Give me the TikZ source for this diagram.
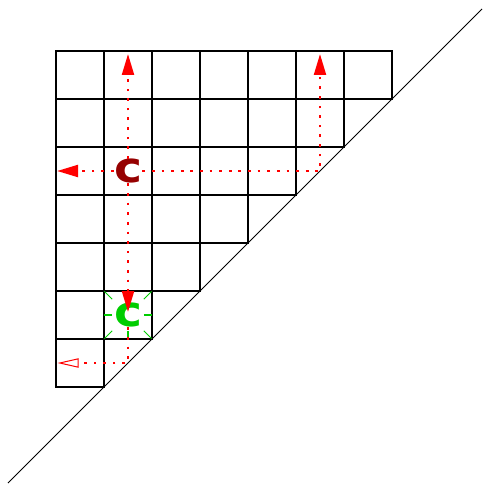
\documentclass[tikz,border=0pt]{standalone}
\usepackage{fontspec}
\newfontfamily\cfont{DejaVu Sans}
\usetikzlibrary{arrows.meta,calc}
\definecolor{cdark}{RGB}{150,0,0}
\definecolor{cgreen}{RGB}{0,205,0}
\tikzset{
  gridline/.style={line width=1.6pt, line cap=rect},
  dotline/.style={red, line width=1.6pt, dash pattern=on 1.6pt off 4.1pt},
  fulltip/.style={-{Triangle[width=7pt,length=12.5pt]}},
  opentip/.style={-{Triangle[open,width=5.5pt,length=12.5pt,line width=0.6pt]}},
  letter/.style={font=\cfont\bfseries\fontsize{25}{25}\selectfont, inner sep=0pt},
  ray/.style={cgreen, line width=0.6pt}
}
\begin{document}
\begin{tikzpicture}
\useasboundingbox (-1.1667,-2.0833) rectangle (8.896,8.0625);
% grid staircase
\foreach \j in {0,...,6} {
  \pgfmathtruncatemacro{\n}{\j+1}
  \foreach \i in {1,...,\n} {
    \draw[gridline] (\i-1,\j) rectangle (\i,\j+1);
  }
}
% diagonal
\coordinate (d1) at (-1,-2);
\coordinate (d2) at (8.875,7.875);
\draw[line width=0.6pt] (d1) -- (d2);
% green rays
\foreach \dx/\dy in {1/1,1/0,1/-1,0/-1,-1/-1,-1/0,-1/1,0/1} {
  \draw[ray] ($(1.5,1.5)+0.33*(\dx,\dy)$) -- ($(1.5,1.5)+0.49*(\dx,\dy)$);
}
% letters
\node[letter, text=cdark] (rc) at (1.5,4.5) {\scalebox{1.12}[1]{c}};
\node[letter, text=cgreen] (gc) at (1.5,1.5) {\scalebox{1.12}[1]{c}};
% coordinates
\coordinate (upA) at (1.5,6.94);
\coordinate (leftA) at (0.02,4.5);
\coordinate (turn) at (5.5,4.5);
\coordinate (upB) at (5.5,6.94);
\coordinate (downA) at (1.5,1.56);
\coordinate (turn2) at (1.5,0.5);
\coordinate (leftB) at (0.03,0.5);
% red dotted arrows
\draw[dotline, fulltip] (rc.north) -- (upA);
\draw[dotline, fulltip] (rc.west) -- (leftA);
\draw[dotline, fulltip] (rc.east) -- (turn) -- (upB);
\draw[dotline, fulltip] (rc.south) -- (downA);
\draw[dotline, opentip] (gc.south) -- (turn2) -- (leftB);
\end{tikzpicture}
\end{document}
